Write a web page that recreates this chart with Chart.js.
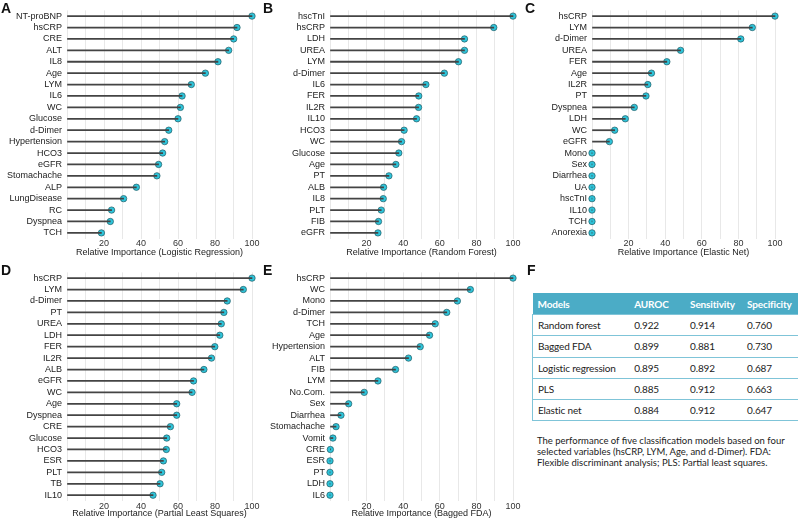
<!DOCTYPE html>
<html>
<head>
<meta charset="utf-8">
<script src="https://cdn.jsdelivr.net/npm/chart.js@4.4.1/dist/chart.umd.min.js"></script>
<style>
    body { margin: 0; width: 798px; height: 519px; background: #fff; position: relative; overflow: hidden; font-family: "Liberation Sans", Arial, sans-serif; }
    canvas { position: absolute; }
    .letter { position: absolute; font-weight: bold; font-size: 14px; line-height: 14px; color: #111; }
    #perf_table { position: absolute; left: 532px; top: 293px; width: 266px; border-collapse: collapse; font-family: Lato, "Open Sans", sans-serif; font-size: 10px; letter-spacing: -0.15px; color: #222; }
    #perf_table th { background: #4bacc6; color: #fff; font-weight: bold; text-align: left; height: 21px; padding: 0 0 0 5px; }
    #perf_table td { height: 20.3px; padding: 0 0 0 5px; border-top: 1px solid #7fc4d8; }
    #perf_table tr td:first-child { border-left: 1px solid #7fc4d8; }
    #perf_table tr:last-child td { border-bottom: 1px solid #7fc4d8; }
    #caption { position: absolute; left: 537px; top: 436px; width: 258px; font-family: Lato, "Open Sans", sans-serif; font-size: 9.5px; line-height: 10.8px; color: #222; }
</style>
</head>
<body>

<canvas id="chart_lr" width="265" height="258" style="left:0px;top:0px"></canvas>
<canvas id="chart_rf" width="265" height="258" style="left:265px;top:0px"></canvas>
<canvas id="chart_en" width="268" height="258" style="left:530px;top:0px"></canvas>
<canvas id="chart_pls" width="265" height="257" style="left:0px;top:262px"></canvas>
<canvas id="chart_fda" width="265" height="257" style="left:265px;top:262px"></canvas>

<div class="letter" style="left:1px;top:1px">A</div>
<div class="letter" style="left:263px;top:1px">B</div>
<div class="letter" style="left:525px;top:1px">C</div>
<div class="letter" style="left:1px;top:263px">D</div>
<div class="letter" style="left:263px;top:263px">E</div>
<div class="letter" style="left:527px;top:263px">F</div>

<table id="perf_table"></table>
<div id="caption">The performance of five classification models based on four selected variables (hsCRP, LYM, Age, and d-Dimer). FDA: Flexible discriminant analysis; PLS: Partial least squares.</div>

<script>
// Panel A - logistic regression
const lr_labels = ["NT-proBNP", "hsCRP", "CRE", "ALT", "IL8", "Age", "LYM", "IL6", "WC", "Glucose", "d-Dimer", "Hypertension", "HCO3", "eGFR", "Stomachache", "ALP", "LungDisease", "RC", "Dyspnea", "TCH"];
const lr_values = [100, 91.9, 90.1, 87.4, 81.6, 74.8, 67.2, 62.2, 61.3, 60.0, 55.0, 52.8, 51.7, 49.5, 48.6, 37.5, 30.6, 24.1, 23.4, 18.6];

// Panel B - random forest
const rf_labels = ["hscTnI", "hsCRP", "LDH", "UREA", "LYM", "d-Dimer", "IL6", "FER", "IL2R", "IL10", "HCO3", "WC", "Glucose", "Age", "PT", "ALB", "IL8", "PLT", "FIB", "eGFR"];
const rf_values = [100, 89.5, 73.5, 73.5, 70.2, 62.5, 52.4, 48.5, 48.4, 47.3, 40.5, 39.1, 37.6, 36.0, 32.2, 29.3, 29.1, 28.0, 26.5, 26.2];

// Panel C - elastic net
const en_labels = ["hsCRP", "LYM", "d-Dimer", "UREA", "FER", "Age", "IL2R", "PT", "Dyspnea", "LDH", "WC", "eGFR", "Mono", "Sex", "Diarrhea", "UA", "hscTnI", "IL10", "TCH", "Anorexia"];
const en_values = [100, 87.6, 81.3, 48.4, 40.9, 32.5, 30.5, 29.5, 23.1, 18.2, 12.4, 9.5, 0, 0, 0, 0, 0, 0, 0, 0];

// Panel D - partial least squares
const pls_labels = ["hsCRP", "LYM", "d-Dimer", "PT", "UREA", "LDH", "FER", "IL2R", "ALB", "eGFR", "WC", "Age", "Dyspnea", "CRE", "Glucose", "HCO3", "ESR", "PLT", "TB", "IL10"];
const pls_values = [100, 95.3, 86.6, 84.8, 83.4, 82.6, 79.9, 78.1, 74.0, 68.4, 67.6, 59.3, 59.3, 55.9, 53.9, 53.7, 52.1, 51.2, 50.3, 46.5];

// Panel E - bagged FDA
const fda_labels = ["hsCRP", "WC", "Mono", "d-Dimer", "TCH", "Age", "Hypertension", "ALT", "FIB", "LYM", "No.Com.", "Sex", "Diarrhea", "Stomachache", "Vomit", "CRE", "ESR", "PT", "LDH", "IL6"];
const fda_values = [100, 76.7, 69.6, 63.8, 57.5, 54.4, 49.3, 42.9, 35.8, 26.2, 18.7, 10.2, 6.0, 3.3, 1.6, 0.2, 0, 0, 0, 0];

const x_tick_labels = [20, 40, 60, 80, 100];

// Panel F - model performance table
const table_header = ["Models", "AUROC", "Sensitivity", "Specificity"];
const table_models = ["Random forest", "Bagged FDA", "Logistic regression", "PLS", "Elastic net"];
const table_auroc = ["0.922", "0.899", "0.895", "0.885", "0.884"];
const table_sensitivity = ["0.914", "0.881", "0.892", "0.912", "0.912"];
const table_specificity = ["0.760", "0.730", "0.687", "0.663", "0.647"];

const axis_font = { family: "'Liberation Sans', Arial, sans-serif", size: 9 };

function drawLollipop(canvas_id, labels, values, axis_title, geom) {

    return new Chart(canvas_id, {
        data: {
            labels: labels,
            datasets: [
                {   // stems
                    type: 'bar',
                    data: values,
                    backgroundColor: '#444444',
                    barThickness: 1.1,
                    clip: false
                },
                {   // heads
                    type: 'line',
                    data: values,
                    showLine: false,
                    pointRadius: 3.2,
                    pointBackgroundColor: '#2ec4da',
                    pointBorderColor: '#235a63',
                    pointBorderWidth: 0.7,
                    clip: false
                }
            ]
        },
        options: {
            indexAxis: 'y',
            responsive: false,
            animation: false,
            events: [],
            layout: { padding: { top: geom.top, right: geom.right, bottom: 0, left: 0 } },
            plugins: { legend: { display: false }, tooltip: { enabled: false } },
            scales: {
                x: {
                    min: 0,
                    max: 100,
                    grid: { color: '#e8e8e8', drawTicks: false },
                    border: { display: false },
                    ticks: {
                        stepSize: 10,
                        autoSkip: false,
                        maxRotation: 0,
                        padding: geom.tick_pad,
                        color: '#333',
                        font: axis_font,
                        callback: (v) => x_tick_labels.includes(v) ? v : ''
                    },
                    title: { display: true, text: axis_title, padding: 0, color: '#222', font: axis_font },
                    afterFit: (scale) => { scale.height = geom.x_height; }
                },
                y: {
                    grid: { display: false, drawTicks: false },
                    border: { display: false },
                    ticks: { padding: 5, color: '#222', font: axis_font, autoSkip: false },
                    afterFit: (scale) => { scale.width = geom.y_width; }
                }
            }
        }
    });

}

function buildTable() {

    const table = document.getElementById('perf_table');
    const head_row = document.createElement('tr');
    table_header.forEach(h => {
        const th = document.createElement('th');
        th.textContent = h;
        head_row.appendChild(th);
    });
    table.appendChild(head_row);

    table_models.forEach((model, i) => {
        const row = document.createElement('tr');
        [model, table_auroc[i], table_sensitivity[i], table_specificity[i]].forEach(cell => {
            const td = document.createElement('td');
            td.textContent = cell;
            row.appendChild(td);
        });
        table.appendChild(row);
    });

    // column widths
    const widths = [97, 56, 57, 56];
    Array.from(head_row.children).forEach((th, i) => th.style.width = (widths[i] - 5) + 'px');

}

const top_geom = { top: 3.4, x_height: 19.4, tick_pad: 0 };
const bottom_geom = { top: 3.8, x_height: 18.1, tick_pad: 0.5 };

drawLollipop('chart_lr', lr_labels, lr_values, 'Relative Importance (Logistic Regression)', { ...top_geom, y_width: 67, right: 13 });
drawLollipop('chart_rf', rf_labels, rf_values, 'Relative Importance (Random Forest)', { ...top_geom, y_width: 65, right: 17 });
drawLollipop('chart_en', en_labels, en_values, 'Relative Importance (Elastic Net)', { ...top_geom, y_width: 62, right: 23 });
drawLollipop('chart_pls', pls_labels, pls_values, 'Relative Importance (Partial Least Squares)', { ...bottom_geom, y_width: 67, right: 13 });
drawLollipop('chart_fda', fda_labels, fda_values, 'Relative Importance (Bagged FDA)', { ...bottom_geom, y_width: 65, right: 17 });

buildTable();
</script>
</body>
</html>
